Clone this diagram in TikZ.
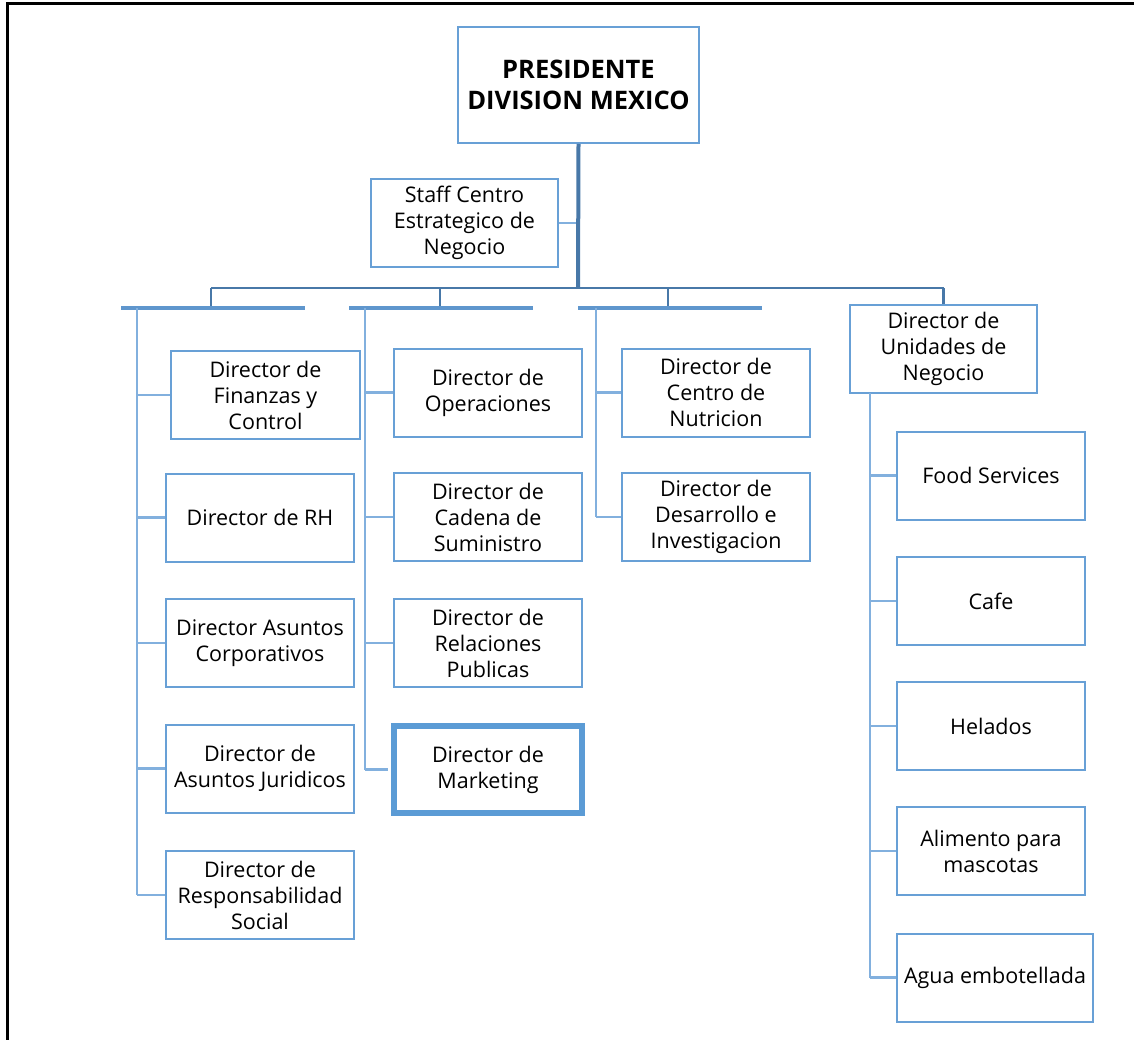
\documentclass[tikz,border=0pt]{standalone}
\usepackage{fontspec}
\setmainfont{Open Sans}
\definecolor{boxc}{RGB}{104,160,214}
\definecolor{connc}{RGB}{130,176,222}
\definecolor{trunkc}{RGB}{72,120,168}
\definecolor{barc}{RGB}{95,150,205}
\definecolor{hlc}{RGB}{91,155,213}
\begin{document}
\begin{tikzpicture}[x=1pt,y=-1pt,
  box/.style={draw=boxc, line width=2pt, fill=white, align=center, inner sep=0pt,
    minimum width=188pt, minimum height=88pt, font=\fontsize{21.5}{26}\selectfont},
  conn/.style={draw=connc, line width=2.5pt},
  trunk/.style={draw=trunkc, line width=2.5pt},
  bar/.style={draw=barc, line width=3.5pt}]
\useasboundingbox (0,0) rectangle (1134,1040);
\draw[black, line width=3pt] (7,1040) -- (7,4) -- (1134,4);

% nodes
\node[box, minimum width=241pt, minimum height=116pt, font=\fontsize{25.5}{31}\selectfont\bfseries] (pres) at (578.5,85) {PRESIDENTE\\DIVISION MEXICO};
\node[box, minimum width=187pt] (staff) at (464.5,223) {Staff Centro\\Estrategico de\\Negocio};

\node[box, minimum width=189pt] (fin) at (265.5,395) {Director de\\Finanzas y\\Control};
\node[box] (rh) at (260,517.5) {Director de RH};
\node[box] (corp) at (260,643) {Director Asuntos\\Corporativos};
\node[box] (jur) at (260,768.5) {Director de\\Asuntos Juridicos};
\node[box] (resp) at (260,895) {Director de\\Responsabilidad\\Social};

\node[box] (oper) at (488,392.5) {Director de\\Operaciones};
\node[box] (cad) at (488,517) {Director de\\Cadena de\\Suministro};
\node[box] (rel) at (488,643) {Director de\\Relaciones\\Publicas};
\node[box, draw=hlc, line width=6pt, minimum width=188pt, minimum height=87pt] (mkt) at (488,769.5) {Director de\\Marketing};

\node[box] (nut) at (716,392.5) {Director de\\Centro de\\Nutricion};
\node[box] (des) at (716,517) {Director de\\Desarrollo e\\Investigacion};

\node[box, minimum width=187pt] (uni) at (943.5,349) {Director de\\Unidades de\\Negocio};
\node[box] (food) at (991,475.5) {Food Services};
\node[box] (cafe) at (991,601) {Cafe};
\node[box] (hel) at (991,726) {Helados};
\node[box] (ali) at (991,851) {Alimento para\\mascotas};
\node[box, minimum width=196pt] (agua) at (995,977.5) {Agua embotellada};

% junction coordinates
\coordinate (tj) at (578,288);
\coordinate (hL) at (211,288);
\coordinate (hM) at (440,288);
\coordinate (hR) at (668,288);
\coordinate (hU) at (943.5,288);
\coordinate (bL) at (211,308);
\coordinate (bM) at (440,308);
\coordinate (bR) at (668,308);
\coordinate (cL) at (137,308);
\coordinate (cM) at (365,308);
\coordinate (cR) at (596,308);
\coordinate (cU) at (870,393);

% top structure
\draw[trunk] (hL) -- (hU);
\draw[trunk] (hL) -- (bL);
\draw[trunk] (hM) -- (bM);
\draw[trunk] (hR) -- (bR);
\draw[trunk] (hU) -- (uni.north);
\draw[conn] (staff.east) -- (staff.east -| tj);
\draw[draw=trunkc, line width=4pt] (pres.south) -- (tj);

% bars
\draw[bar] (121,308) -- (305,308);
\draw[bar] (349,308) -- (533,308);
\draw[bar] (578,308) -- (762,308);

% left column
\draw[conn] (cL) -- (cL |- resp.west);
\foreach \n in {fin,rh,corp,jur,resp} \draw[conn] (cL |- \n.west) -- (\n.west);
% middle column
\draw[conn] (cM) -- (cM |- mkt.west);
\foreach \n in {oper,cad,rel} \draw[conn] (cM |- \n.west) -- (\n.west);
\draw[conn] (cM |- mkt.west) -- ([xshift=-3pt]mkt.west);
% right column
\draw[conn] (cR) -- (cR |- des.west);
\foreach \n in {nut,des} \draw[conn] (cR |- \n.west) -- (\n.west);
% units column
\draw[conn] (cU) -- (cU |- agua.west);
\foreach \n in {food,cafe,hel,ali,agua} \draw[conn] (cU |- \n.west) -- (\n.west);
\end{tikzpicture}
\end{document}
